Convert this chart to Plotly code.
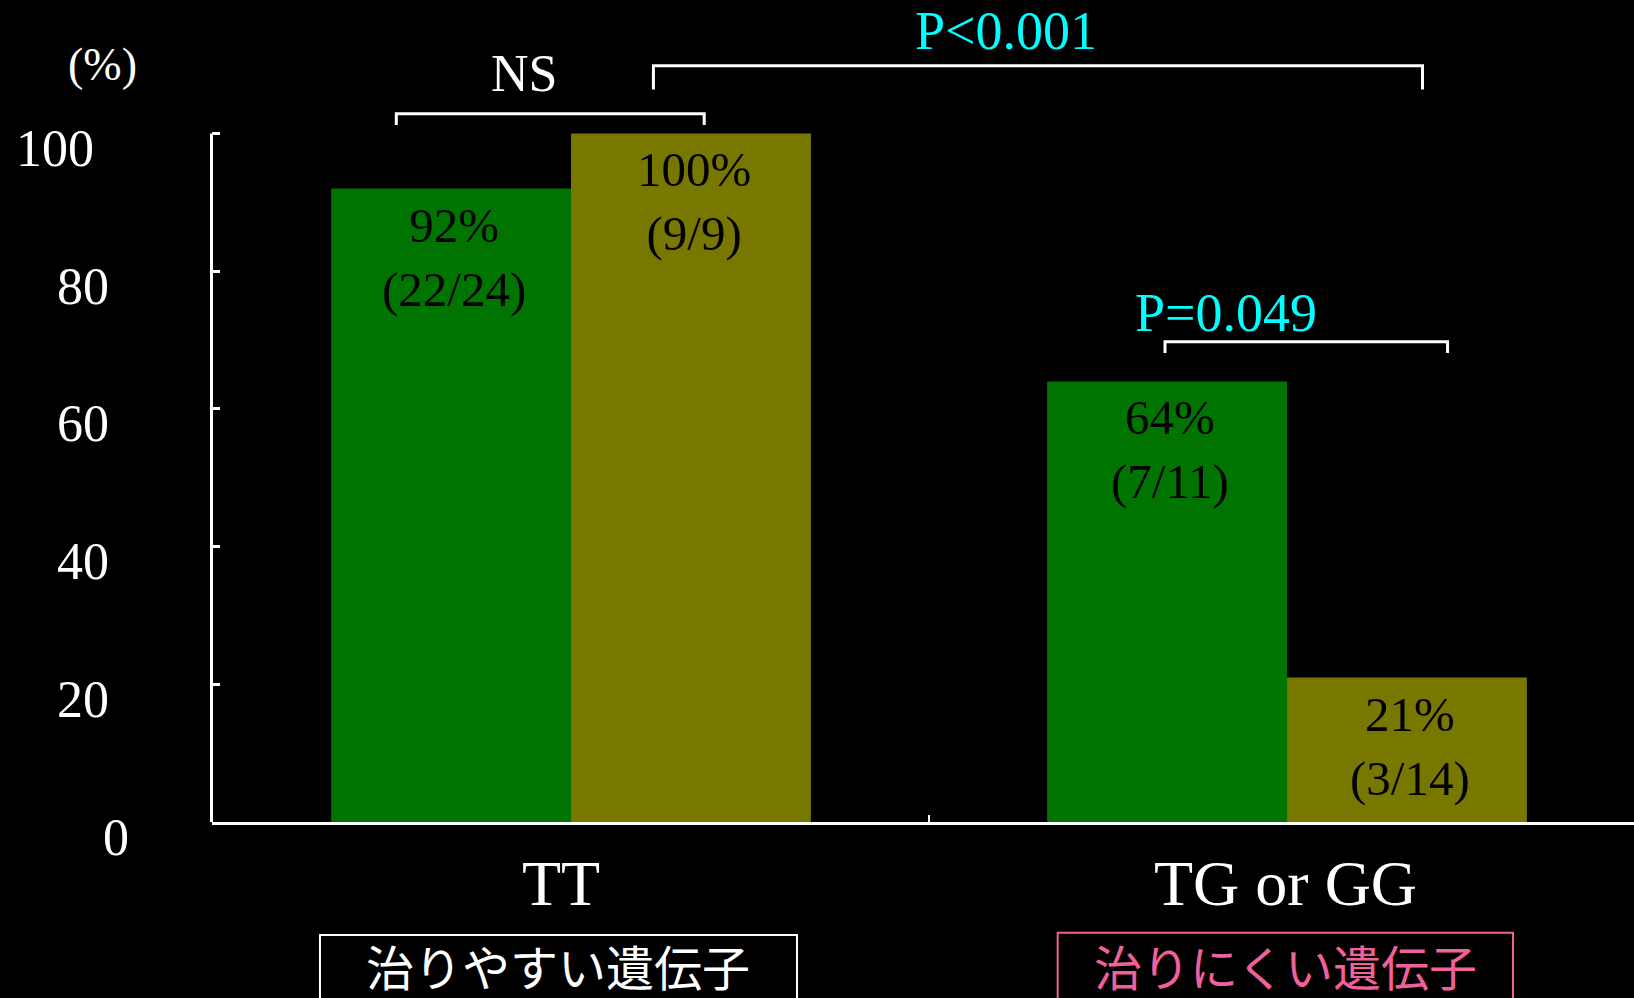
import plotly.graph_objects as go

# ---- data ----
genotypes = ["TT", "TG or GG"]
rate_green = [92, 64]
count_green = ["22/24", "7/11"]
rate_olive = [100, 21]
count_olive = ["9/9", "3/14"]
ytick_vals = [0, 20, 40, 60, 80, 100]
ytick_text = ["0", "20", "40", "60", "80", "100"]
gene_labels = ["治りやすい遺伝子", "治りにくい遺伝子"]
p_labels = ["NS", "P<0.001", "P=0.049"]

# ---- style ----
W, H = 1634, 998
GREEN = "#007400"
OLIVE = "#787800"
CYAN = "#00FFFF"
PINK = "#F0609A"
SERIF = "Liberation Serif, Times New Roman, serif"
CJK = "Noto Sans CJK JP, sans-serif"
BARGAP = 0.33
half = (1 - BARGAP) / 4  # offset of each bar centre from its category

X_RANGE = [-0.5021, 1.4846]
Y_RANGE = [0, 119.37]
Y_DOMAIN = [1 - 822.2 / H, 1]
X_DOMAIN = [211.5 / W, 1]

fig = go.Figure()
fig.add_trace(go.Bar(x=[0, 1], y=rate_green, marker=dict(color=GREEN, line=dict(width=0)),
                     name="green", hoverinfo="skip"))
fig.add_trace(go.Bar(x=[0, 1], y=rate_olive, marker=dict(color=OLIVE, line=dict(width=0)),
                     name="olive", hoverinfo="skip"))

ann = []
# value labels inside bars
for i in range(len(genotypes)):
    for off, rate, cnt in ((-half, rate_green[i], count_green[i]), (half, rate_olive[i], count_olive[i])):
        ann.append(dict(x=i + off, y=rate, xref="x", yref="y", yanchor="top", yshift=-7,
                        xanchor="center", xshift=3,
                        text=f"{rate}%<br>({cnt})", showarrow=False, align="center",
                        font=dict(family=SERIF, size=49, color="black")))

# y tick labels
ylab_x = {0: 115.7, 20: 83.4, 40: 83.4, 60: 83.4, 80: 83.4, 100: 54.7}
for v, t in zip(ytick_vals, ytick_text):
    ann.append(dict(x=ylab_x[v] / W, y=v, xref="paper", yref="y", yshift=-15,
                    xanchor="center", yanchor="middle", text=t, showarrow=False,
                    font=dict(family=SERIF, size=52, color="white")))
ann.append(dict(x=102 / W, y=1 - 64.6 / H, xref="paper", yref="paper", text="(%)",
                xanchor="center", yanchor="middle", showarrow=False,
                font=dict(family=SERIF, size=46, color="white")))

# category labels
cat_shift = [-10, -2]
for i, g in enumerate(genotypes):
    ann.append(dict(x=i, y=1 - 883.7 / H, xref="x", yref="paper", xshift=cat_shift[i],
                    xanchor="center", yanchor="middle", text=g, showarrow=False,
                    font=dict(family=SERIF, size=64, color="white")))

# gene boxes under the categories
box_x = [(-0.3506, 0.3156), (0.6797, 1.3156)]
box_top = [1 - 935 / H, 1 - 932.7 / H]
box_col = ["white", PINK]
shapes = []
for i, lab in enumerate(gene_labels):
    shapes.append(dict(type="rect", xref="x", yref="paper", x0=box_x[i][0], x1=box_x[i][1],
                       y0=-0.05, y1=box_top[i], line=dict(color=box_col[i], width=2)))
    ann.append(dict(x=(box_x[i][0] + box_x[i][1]) / 2, y=1 - 965 / H, xref="x", yref="paper",
                    xanchor="center", yanchor="middle", text=lab, showarrow=False,
                    font=dict(family=CJK, size=48, color=box_col[i])))

# significance brackets
brackets = [(-0.244, 0.186, 102.87, 101.23), (0.1151, 1.1892, 109.83, 106.36),
            (0.8296, 1.2242, 69.74, 68.12)]
for x0, x1, ytop, yleg in brackets:
    shapes.append(dict(type="path", xref="x", yref="y",
                       path=f"M {x0},{yleg} L {x0},{ytop} L {x1},{ytop} L {x1},{yleg}",
                       line=dict(color="white", width=3)))
p_pos = [(-0.0656, 108.77, "white"), (0.6075, 114.87, CYAN), (0.9141, 73.98, CYAN)]
for (x, y, c), t in zip(p_pos, p_labels):
    ann.append(dict(x=x, y=y, xref="x", yref="y", text=t, showarrow=False,
                    xanchor="center", yanchor="middle",
                    font=dict(family=SERIF, size=52 if t == "NS" else 54, color=c)))

# y axis line from 0 to 100
shapes.append(dict(type="line", xref="paper", yref="y", x0=X_DOMAIN[0], x1=X_DOMAIN[0],
                   y0=0, y1=100, line=dict(color="white", width=3)))

fig.update_layout(
    width=W, height=H, margin=dict(l=0, r=0, t=0, b=0),
    paper_bgcolor="black", plot_bgcolor="black",
    barmode="group", bargap=BARGAP, bargroupgap=0, showlegend=False,
    xaxis=dict(domain=X_DOMAIN, range=X_RANGE, showgrid=False, zeroline=False,
               showline=True, linecolor="white", linewidth=3,
               tickmode="array", tickvals=[0.5], ticks="inside", ticklen=7,
               tickwidth=2, tickcolor="white", showticklabels=False),
    yaxis=dict(domain=Y_DOMAIN, range=Y_RANGE, showgrid=False, zeroline=False,
               showline=False, tickmode="array", tickvals=ytick_vals, ticks="inside",
               ticklen=8, tickwidth=3, tickcolor="white", showticklabels=False),
    annotations=ann, shapes=shapes,
)

fig.write_html("out.html")
